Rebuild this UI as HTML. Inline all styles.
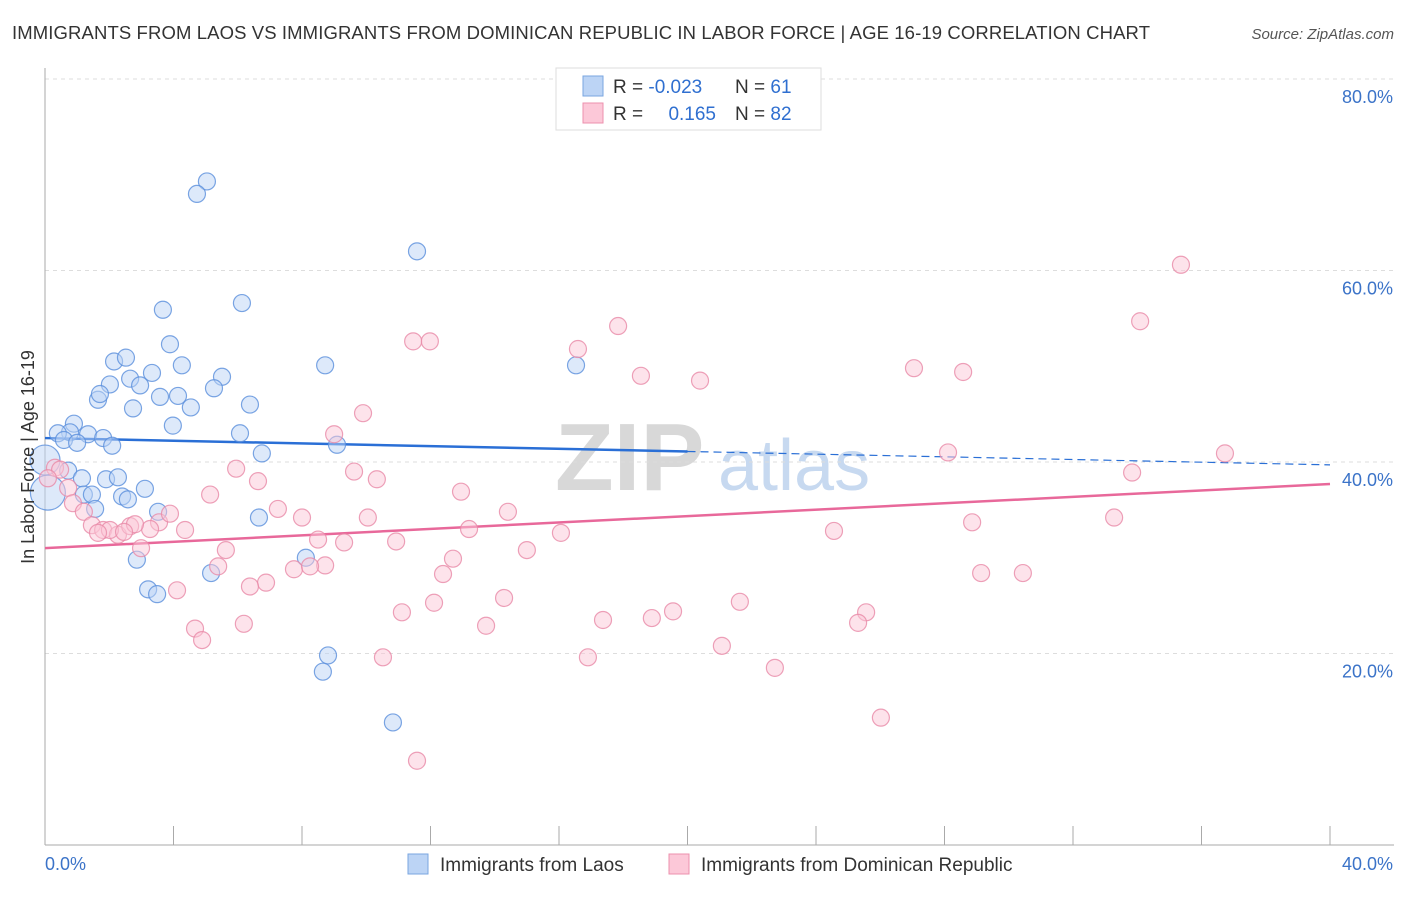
<!DOCTYPE html>
<html><head><meta charset="utf-8">
<style>
body{margin:0;background:#fff;font-family:"Liberation Sans",sans-serif;}
svg text{font-family:"Liberation Sans",sans-serif;}
</style></head>
<body>
<svg id="chart" width="1406" height="892" viewBox="0 0 1406 892" xmlns="http://www.w3.org/2000/svg">
<text x="12" y="39" font-size="18.5" fill="#333" textLength="1138">IMMIGRANTS FROM LAOS VS IMMIGRANTS FROM DOMINICAN REPUBLIC IN LABOR FORCE | AGE 16-19 CORRELATION CHART</text>
<text x="1394" y="39" font-size="15" fill="#555" text-anchor="end" font-style="italic">Source: ZipAtlas.com</text>
<g>
<text x="555" y="490" font-size="96" fill="#d8d8d8" font-family="Liberation Serif" font-weight="bold">ZIP</text>
<text x="718" y="490" font-size="72" fill="#c7d9f0">atlas</text>
</g>
<g id="grid"></g>
<g id="axes"></g>
<g id="trends"></g>
<g id="pts"></g>
<text transform="translate(34,457) rotate(-90)" font-size="18" fill="#333" text-anchor="middle">In Labor Force | Age 16-19</text>
<g>
<rect x="556" y="68" width="265" height="62" fill="#fff" stroke="#ddd"/>
<rect x="583" y="76" width="20" height="20" fill="#bcd4f5" stroke="#7aa6e0"/>
<rect x="583" y="103" width="20" height="20" fill="#fcc8d8" stroke="#ec90ae"/>
<text x="613" y="93" font-size="19" fill="#333">R = <tspan fill="#2f6fd0">-0.023</tspan></text>
<text x="735" y="93" font-size="19" fill="#333">N =  <tspan fill="#2f6fd0">61</tspan></text>
<text x="613" y="120" font-size="19" fill="#333">R = </text>
<text x="716" y="120" font-size="19" fill="#2f6fd0" text-anchor="end">0.165</text>
<text x="735" y="120" font-size="19" fill="#333">N = <tspan fill="#2f6fd0">82</tspan></text>
</g>
<g>
<rect x="408" y="854" width="20" height="20" fill="#bcd4f5" stroke="#7aa6e0"/>
<text x="440" y="871" font-size="19" fill="#333">Immigrants from Laos</text>
<rect x="669" y="854" width="20" height="20" fill="#fcc8d8" stroke="#ec90ae"/>
<text x="701" y="871" font-size="19" fill="#333">Immigrants from Dominican Republic</text>
</g>
</svg>
<script>
const yTicks=[20,40,60,80];
const yTickLabels=["20.0%","40.0%","60.0%","80.0%"];
const xTickLabels=["0.0%","40.0%"];
const laosX=[5.04,4.73,11.58,3.67,6.13,3.89,2.15,2.52,8.72,4.26,16.53,3.33,2.02,2.65,2.96,5.51,1.65,1.71,5.26,3.58,4.14,2.74,4.54,6.38,3.98,0.90,0.78,0.40,0.59,1.34,1.00,1.81,2.09,6.07,9.09,6.75,0.0,0.72,1.90,1.15,2.27,3.11,1.21,1.46,2.40,2.58,1.56,3.52,6.66,2.86,8.12,5.17,3.21,3.49,8.81,8.65,10.83,0.09];
const laosY=[69.3,68.0,62.0,55.9,56.6,52.3,50.5,50.9,50.1,50.1,50.1,49.3,48.1,48.7,48.0,48.9,46.5,47.1,47.7,46.8,46.9,45.6,45.7,46.0,43.8,44.0,43.1,43.0,42.3,42.9,42.0,42.5,41.7,43.0,41.8,40.9,40.2,39.1,38.2,38.3,38.4,37.2,36.6,36.6,36.4,36.1,35.1,34.8,34.2,29.8,30.0,28.4,26.7,26.2,19.8,18.1,12.8,36.8];
const laosSize=[1,1,1,1,1,1,1,1,1,1,1,1,1,1,1,1,1,1,1,1,1,1,1,1,1,1,1,1,1,1,1,1,1,1,1,1,2,1,1,1,1,1,1,1,1,1,1,1,1,1,1,1,1,1,1,1,1,3];
const domX=[35.36,34.09,17.84,11.46,11.98,16.59,27.05,28.58,18.55,20.39,9.90,9.00,28.11,36.73,5.95,9.62,33.84,10.33,6.63,12.95,5.14,7.25,14.41,10.05,8.00,33.28,28.86,13.20,3.55,3.89,4.36,16.06,24.56,8.50,9.31,10.93,15.00,5.63,2.99,12.70,8.72,7.75,8.25,12.39,5.39,29.14,30.44,6.88,6.38,4.11,14.29,12.11,21.63,11.11,19.55,25.56,17.37,18.89,13.73,25.31,6.19,4.67,4.89,10.52,16.90,21.07,22.72,26.02,11.58,0.31,0.47,0.72,0.87,1.21,1.46,1.81,2.27,2.02,2.65,3.27,2.80,1.65,2.46,0.09];
const domY=[60.6,54.7,54.2,52.6,52.6,51.8,49.8,49.4,49.0,48.5,45.1,42.9,41.0,40.9,39.3,39.0,38.9,38.2,38.0,36.9,36.6,35.1,34.8,34.2,34.2,34.2,33.7,33.0,33.7,34.6,32.9,32.6,32.8,31.9,31.6,31.7,30.8,30.8,31.0,29.9,29.2,28.8,29.1,28.3,29.1,28.4,28.4,27.4,27.0,26.6,25.8,25.3,25.4,24.3,24.4,24.3,23.5,23.7,22.9,23.2,23.1,22.6,21.4,19.6,19.6,20.8,18.5,13.3,8.8,39.4,39.2,37.3,35.7,34.8,33.4,32.9,32.4,32.9,33.3,33.0,33.5,32.6,32.7,38.3];
const laosTrend=[42.5,39.7];
const domTrend=[31.0,37.7];
const NS="http://www.w3.org/2000/svg";
const X=v=>45+v*(1285/40);
const Y=v=>845-v*9.575;
function mk(tag,attrs,parent){const e=document.createElementNS(NS,tag);for(const k in attrs)e.setAttribute(k,attrs[k]);document.getElementById(parent).appendChild(e);return e;}
yTicks.forEach((t,i)=>{
 let g=mk('line',{x1:45,x2:1394,y1:Y(t),y2:Y(t),stroke:'#ddd','stroke-dasharray':'4,4'},'grid');
 
 
 let l=mk('text',{x:1393,y:Y(t)+24,'font-size':18,fill:'#3b73c8','text-anchor':'end'},'axes');
 l.textContent=yTickLabels[i];
 
 
});
let ax=mk('line',{x1:45,x2:45,y1:68,y2:845,stroke:'#aaa'},'axes');


let bx=mk('line',{x1:45,x2:1394,y1:845,y2:845,stroke:'#aaa'},'axes');


for(let i=0;i<=10;i++){
 let t=mk('line',{x1:X(i*4),x2:X(i*4),y1:826,y2:845,stroke:'#aaa'},'axes');
 
 
}
let xl0=mk('text',{x:45,y:870,'font-size':18,fill:'#3b73c8'},'axes');xl0.textContent=xTickLabels[0];


let xl1=mk('text',{x:1393,y:870,'font-size':18,fill:'#3b73c8','text-anchor':'end'},'axes');xl1.textContent=xTickLabels[1];


function pts(xs,ys,sz,fill,stroke,name){
 xs.forEach((x,i)=>{
  let c=mk('circle',{cx:X(x),cy:Y(ys[i]),r:sz?(sz[i]>1?10+sz[i]*2.5:8.5):8.5,fill:fill,'fill-opacity':0.5,stroke:stroke,'stroke-opacity':0.8,'stroke-width':1.2},'pts');
  
  
 });
}
pts(laosX,laosY,laosSize,'#bcd4f5','#5a8fdc','laos-point');
pts(domX,domY,null,'#fcc8d8','#e889a8','dominican-point');
const ly=x=>laosTrend[0]+(laosTrend[1]-laosTrend[0])*x/40;
let t1=mk('line',{x1:X(0),y1:Y(ly(0)),x2:X(20),y2:Y(ly(20)),stroke:'#2a6fd6','stroke-width':2.5},'trends');


let t2=mk('line',{x1:X(20),y1:Y(ly(20)),x2:X(40),y2:Y(ly(40)),stroke:'#2a6fd6','stroke-width':1.2,'stroke-dasharray':'8,5'},'trends');


let t3=mk('line',{x1:X(0),y1:Y(domTrend[0]),x2:X(40),y2:Y(domTrend[1]),stroke:'#e8689a','stroke-width':2.5},'trends');


</script>
</body></html>
